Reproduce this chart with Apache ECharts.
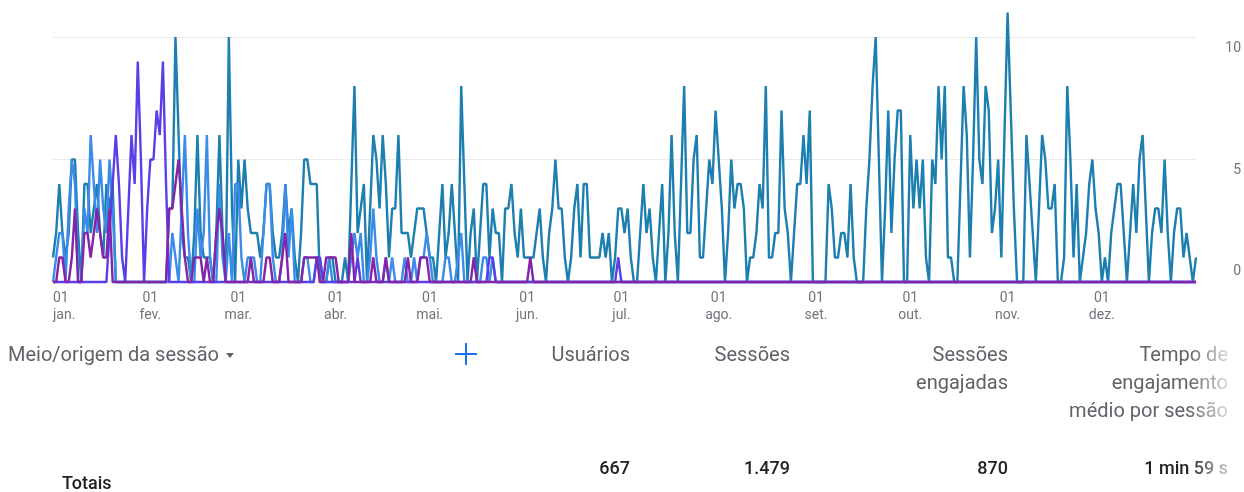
<!DOCTYPE html>
<html>
<head>
<meta charset="utf-8">
<script src="https://cdn.jsdelivr.net/npm/echarts@6.0.0/dist/echarts.min.js"></script>
<style>
  html, body { margin: 0; padding: 0; background: #fff; }
  #wrap { position: relative; width: 1244px; height: 492px; overflow: hidden; font-family: Roboto, 'Noto Sans', sans-serif; }
  #chart { position: absolute; left: 0; top: 0; width: 1244px; height: 492px; }
  .t { position: absolute; white-space: nowrap; font-size: 20px; line-height: 28px; color: #5f6368; }
  .r { text-align: right; }
  .v { color: #202124; font-weight: 500; font-size: 18px; }
  .fade {
    -webkit-mask-image: linear-gradient(to right, #000 0, #000 calc(100% - 40px), rgba(0,0,0,0.25) 100%);
    mask-image: linear-gradient(to right, #000 0, #000 calc(100% - 40px), rgba(0,0,0,0.25) 100%);
  }
  .caret { display: inline-block; margin-left: 7px; vertical-align: middle; width: 0; height: 0;
    border-left: 4.5px solid transparent; border-right: 4.5px solid transparent; border-top: 5px solid #5f6368; }
  .plus { position: absolute; width: 22px; height: 22px; }
  .plus::before, .plus::after { content: ''; position: absolute; background: #1a73e8; }
  .plus::before { left: 10px; top: 0; width: 2px; height: 22px; }
  .plus::after { left: 0; top: 10px; width: 22px; height: 2px; }
</style>
</head>
<body>
<div id="wrap">
  <div id="chart"></div>
  <div class="t" style="left:8px;top:340px">Meio/origem da sessão<span class="caret"></span></div>
  <div class="plus" style="left:455px;top:343px"></div>
  <div class="t r" style="right:614px;top:340px">Usuários</div>
  <div class="t r" style="right:454px;top:340px">Sessões</div>
  <div class="t r" style="right:236px;top:340px">Sessões<br>engajadas</div>
  <div class="t r fade" style="right:16px;top:340px;width:170px">Tempo de<br>engajamento<br>médio por sessão</div>
  <div class="t v" style="left:62px;top:469px">Totais</div>
  <div class="t r v" style="right:614px;top:454px">667</div>
  <div class="t r v" style="right:454px;top:454px">1.479</div>
  <div class="t r v" style="right:236px;top:454px">870</div>
  <div class="t r v fade" style="right:16px;top:454px;width:140px">1 min 59 s</div>
</div>
<script>
const monthNames = ['jan.', 'fev.', 'mar.', 'abr.', 'mai.', 'jun.', 'jul.', 'ago.', 'set.', 'out.', 'nov.', 'dez.']
const monthDays = [31, 28, 31, 30, 31, 30, 31, 31, 30, 31, 30, 31]
const yTicks = [0, 5, 10]

// daily values, one line per month
const seriesTeal = [
  1,2,4,2,1,2,5,5,2,0,4,4,2,3,4,2,1,4,3,4,0,0,0,0,0,0,0,0,0,0,0,
  0,0,0,0,0,0,3,3,10,6,2,1,1,0,2,6,2,1,1,1,0,2,6,2,0,10,3,0,
  5,3,5,3,2,2,2,1,2,4,4,2,1,1,2,4,2,3,1,0,2,5,5,4,4,4,0,0,0,1,1,
  0,0,0,1,0,4,8,2,3,4,0,3,6,5,3,6,4,1,3,3,6,2,2,2,1,2,3,3,3,2,
  1,1,0,2,4,1,2,4,2,0,8,4,0,2,3,0,2,4,4,1,3,2,2,0,3,3,4,2,1,3,1,
  1,1,1,2,3,1,0,2,3,5,3,3,1,0,1,3,4,1,4,4,1,1,1,1,2,1,2,0,1,3,
  3,2,3,1,0,0,2,4,2,3,1,0,2,4,0,2,6,2,0,4,8,2,2,5,6,1,1,3,5,4,7,
  5,3,0,2,5,3,4,4,3,0,1,1,2,4,3,8,1,1,2,2,7,3,2,0,2,4,4,6,4,7,0,
  0,0,0,0,4,3,1,1,2,2,1,4,1,0,0,0,3,5,8,10,5,0,3,7,2,5,7,7,0,0,
  6,3,5,3,5,1,0,5,4,8,5,8,1,1,0,0,4,8,6,1,5,10,5,4,8,7,2,3,5,1,6,
  11,7,3,0,0,0,6,4,2,0,3,6,5,3,3,4,0,0,1,8,5,1,4,0,1,2,4,5,3,2,
  0,1,0,2,3,4,4,2,0,2,4,2,5,6,3,0,2,3,3,2,5,2,0,2,3,3,1,2,1,0,1
]
const seriesBlue = [
  0,1,2,2,0,3,5,4,0,0,3,2,6,4,2,5,3,2,5,3,0,0,0,0,0,0,0,0,0,0,0,
  0,0,0,0,0,0,0,2,1,0,3,6,2,0,0,3,1,2,6,1,0,0,4,1,0,2,0,4,
  4,1,0,1,1,1,0,0,2,4,4,1,0,0,1,4,1,3,0,0,0,1,1,0,0,1,1,0,0,1,0,
  0,0,0,0,0,1,2,1,2,0,0,1,3,1,0,0,1,0,1,0,0,0,1,0,0,1,0,1,1,2,
  1,0,0,0,0,1,1,0,0,1,2,0,0,0,0,0,0,1,1,0,1,0,0,0,0,0,0,0,0,0,0,
  0,0,0,0,0,0,0,0,0,0,0,0,0,0,0,0,0,0,0,0,0,0,0,0,0,0,0,0,0,0,
  0,0,0,0,0,0,0,0,0,0,0,0,0,0,0,0,0,0,0,0,0,0,0,0,0,0,0,0,0,0,0,
  0,0,0,0,0,0,0,0,0,0,0,0,0,0,0,0,0,0,0,0,0,0,0,0,0,0,0,0,0,0,0,
  0,0,0,0,0,0,0,0,0,0,0,0,0,0,0,0,0,0,0,0,0,0,0,0,0,0,0,0,0,0,
  0,0,0,0,0,0,0,0,0,0,0,0,0,0,0,0,0,0,0,0,0,0,0,0,0,0,0,0,0,0,0,
  0,0,0,0,0,0,0,0,0,0,0,0,0,0,0,0,0,0,0,0,0,0,0,0,0,0,0,0,0,0,
  0,0,0,0,0,0,0,0,0,0,0,0,0,0,0,0,0,0,0,0,0,0,0,0,0,0,0,0,0,0,0
]
const seriesViolet = [
  0,0,0,0,0,0,0,0,0,0,0,0,0,0,0,0,0,0,2,4,6,4,1,0,3,6,4,9,5,0,3,
  5,5,7,6,9,4,0,0,0,0,0,0,0,0,0,0,0,0,0,0,0,0,0,0,0,0,0,0,
  0,0,0,0,0,0,0,0,0,0,0,0,0,0,0,0,0,0,0,0,0,0,0,0,0,1,1,0,0,0,0,
  0,0,0,0,0,0,0,1,0,0,0,0,0,0,0,0,0,0,0,0,0,0,0,0,0,0,0,0,0,0,
  0,0,0,0,0,0,0,0,0,0,0,0,0,0,0,0,0,0,0,1,1,0,0,0,0,0,0,0,0,0,0,
  0,0,0,0,0,0,0,0,0,0,0,0,0,0,0,0,0,0,0,0,0,0,0,0,0,0,0,0,0,1,
  0,0,0,0,0,0,0,0,0,0,0,0,0,0,0,0,0,0,0,0,0,0,0,0,0,0,0,0,0,0,0,
  0,0,0,0,0,0,0,0,0,0,0,0,0,0,0,0,0,0,0,0,0,0,0,0,0,0,0,0,0,0,0,
  0,0,0,0,0,0,0,0,0,0,0,0,0,0,0,0,0,0,0,0,0,0,0,0,0,0,0,0,0,0,
  0,0,0,0,0,0,0,0,0,0,0,0,0,0,0,0,0,0,0,0,0,0,0,0,0,0,0,0,0,0,0,
  0,0,0,0,0,0,0,0,0,0,0,0,0,0,0,0,0,0,0,0,0,0,0,0,0,0,0,0,0,0,
  0,0,0,0,0,0,0,0,0,0,0,0,0,0,0,0,0,0,0,0,0,0,0,0,0,0,0,0,0,0,0
]
const seriesPurple = [
  0,0,1,1,0,0,1,3,0,0,2,2,1,2,3,2,1,1,3,0,0,0,0,0,0,0,0,0,0,0,0,
  0,0,0,0,0,0,3,3,4,5,3,1,0,0,1,1,1,0,1,0,0,2,3,2,0,0,0,0,
  0,0,0,0,1,0,0,0,0,1,1,0,0,0,1,2,0,0,0,0,0,1,1,1,1,1,0,0,1,1,1,
  1,0,0,0,0,2,0,0,0,0,0,0,1,0,0,0,1,0,0,0,0,0,0,1,0,0,0,1,1,1,
  0,0,0,0,0,0,0,0,0,0,0,0,0,0,1,0,0,0,0,0,0,0,0,0,0,0,0,0,0,0,0,
  0,1,0,0,0,0,0,0,0,0,0,0,0,0,0,0,0,0,0,0,0,0,0,0,0,0,0,0,0,0,
  0,0,0,0,0,0,0,0,0,0,0,0,0,0,0,0,0,0,0,0,0,0,0,0,0,0,0,0,0,0,0,
  0,0,0,0,0,0,0,0,0,0,0,0,0,0,0,0,0,0,0,0,0,0,0,0,0,0,0,0,0,0,0,
  0,0,0,0,0,0,0,0,0,0,0,0,0,0,0,0,0,0,0,0,0,0,0,0,0,0,0,0,0,0,
  0,0,0,0,0,0,0,0,0,0,0,0,0,0,0,0,0,0,0,0,0,0,0,0,0,0,0,0,0,0,0,
  0,0,0,0,0,0,0,0,0,0,0,0,0,0,0,0,0,0,0,0,0,0,0,0,0,0,0,0,0,0,
  0,0,0,0,0,0,0,0,0,0,0,0,0,0,0,0,0,0,0,0,0,0,0,0,0,0,0,0,0,0,0
]

// one category per day, "DD/MM"
const days = []
monthDays.forEach((n, m) => {
  for (let d = 1; d <= n; d++) {
    days.push(String(d).padStart(2, '0') + '/' + String(m + 1).padStart(2, '0'))
  }
})

function lineSeries(name, data, color) {
  return {
    name,
    type: 'line',
    data,
    symbol: 'none',
    showSymbol: false,
    clip: false,
    silent: true,
    lineStyle: { width: 2.4, color },
    itemStyle: { color }
  }
}

const labelFont = { fontFamily: 'Roboto', fontSize: 14, color: '#70757a' }

const chart = echarts.init(document.getElementById('chart'))
chart.setOption({
  animation: false,
  grid: { left: 53, right: 47, top: 37, bottom: 210 },
  xAxis: {
    type: 'category',
    data: days,
    boundaryGap: false,
    axisLine: { show: false },
    axisTick: { show: false },
    splitLine: { show: false },
    axisLabel: Object.assign({}, labelFont, {
      margin: 8,
      lineHeight: 17,
      alignMinLabel: 'left',
      interval: (i, v) => v.slice(0, 2) === '01',
      formatter: (v) => '01\n' + monthNames[+v.slice(3, 5) - 1]
    })
  },
  yAxis: {
    type: 'value',
    position: 'right',
    min: yTicks[0],
    max: yTicks[yTicks.length - 1],
    interval: yTicks[1] - yTicks[0],
    axisLine: { show: false },
    axisTick: { show: false },
    splitLine: { lineStyle: { color: '#ebebeb', width: 1 } },
    axisLabel: {
      margin: 45,
      align: 'right',
      formatter: (v) => (v === 0 ? '{b|0}' : '{t|' + v + '}'),
      rich: {
        t: Object.assign({}, labelFont, { padding: [22, 0, 0, 0] }),
        b: Object.assign({}, labelFont, { padding: [0, 0, 22, 0] })
      }
    }
  },
  series: [
    lineSeries('Série 1', seriesTeal, '#1c7fb0'),
    lineSeries('Série 2', seriesBlue, '#3b8be8'),
    lineSeries('Série 3', seriesViolet, '#5a3ee8'),
    lineSeries('Série 4', seriesPurple, '#8424a8')
  ]
})
</script>
</body>
</html>
